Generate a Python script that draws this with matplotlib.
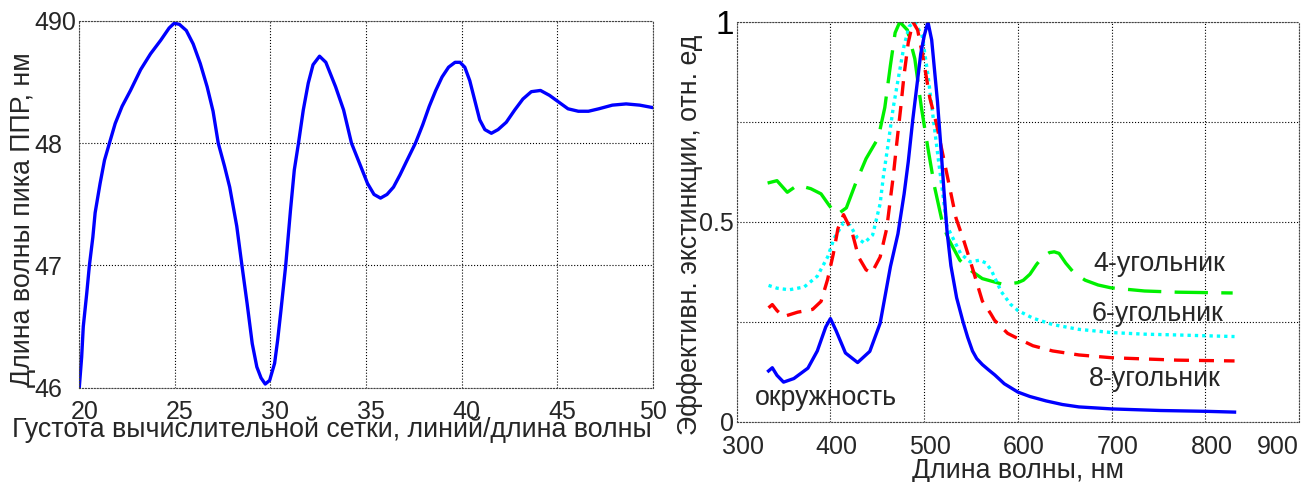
import matplotlib
matplotlib.use('Agg')
import matplotlib.pyplot as plt
from matplotlib.transforms import ScaledTranslation

plt.rcParams['font.family'] = ['Liberation Sans', 'DejaVu Sans']
TXT = '#262626'
FS = 19.3

# левый график: положение пика ППР от густоты сетки
grid_density = [20.0, 20.125, 20.21, 20.39, 20.53, 20.71, 20.83, 21.09, 21.32, 21.58,
                21.88, 22.24, 22.68, 23.21, 23.73, 24.26, 24.7, 24.97, 25.24, 25.6,
                25.96, 26.33, 26.69, 27.0, 27.27, 27.6, 27.87, 28.24, 28.51, 28.78,
                29.05, 29.29, 29.51, 29.73, 29.96, 30.22, 30.38, 30.55, 30.8, 31.05,
                31.25, 31.47, 31.72, 31.98, 32.23, 32.57, 32.9, 33.41, 33.83, 34.24,
                34.75, 35.08, 35.42, 35.76, 36.1, 36.44, 36.78, 37.12, 37.59, 37.97,
                38.31, 38.65, 38.98, 39.32, 39.66, 39.92, 40.17, 40.43, 40.69, 40.95,
                41.22, 41.56, 41.91, 42.34, 42.78, 43.21, 43.65, 44.13, 44.6, 45.04,
                45.57, 46.11, 46.64, 47.18, 47.89, 48.61, 49.32, 50.0]
peak_nm = [460.0, 462.5, 465.0, 467.7, 470.0, 472.3, 474.3, 476.7, 478.6, 480.0,
           481.6, 483.0, 484.3, 486.0, 487.3, 488.4, 489.4, 489.8, 489.7, 489.2,
           488.1, 486.5, 484.6, 482.6, 480.0, 478.1, 476.4, 473.2, 470.0, 466.9,
           463.6, 461.7, 460.8, 460.3, 460.6, 462.0, 463.9, 466.3, 470.0, 474.5,
           477.8, 480.0, 482.7, 484.9, 486.4, 487.1, 486.6, 484.6, 482.7, 480.0,
           478.0, 476.7, 475.8, 475.5, 475.8, 476.4, 477.4, 478.5, 480.0, 481.5,
           483.0, 484.3, 485.4, 486.2, 486.6, 486.6, 486.2, 485.1, 483.5, 481.9,
           481.1, 480.8, 481.1, 481.7, 482.7, 483.6, 484.2, 484.3, 483.9, 483.4,
           482.8, 482.6, 482.6, 482.8, 483.1, 483.2, 483.1, 482.9]
left_yticks = [460, 470, 480, 490]
left_ylabels = ['46', '47', '48', '490']
left_xticks = [20, 25, 30, 35, 40, 45, 50]

# правый график: спектры экстинкции
circle_wl = [334, 338, 343, 350, 361, 376, 386, 395, 400, 406,
             416, 429, 442, 453, 464, 472, 478.6, 483, 487.8, 492.7,
             496.3, 500, 504, 508, 511, 514.2, 517.7, 521, 524.4, 528.5,
             534.6, 541.4, 546.4, 551.5, 556, 562, 568.5, 575.3, 585.4, 600,
             612.8, 630, 647.4, 665, 700, 752, 800, 831]
circle_ext = [0.127, 0.135, 0.116, 0.099, 0.108, 0.134, 0.177, 0.237, 0.258, 0.228,
              0.172, 0.148, 0.176, 0.246, 0.388, 0.47, 0.57, 0.65, 0.755, 0.85,
              0.92, 0.965, 1.0, 0.955, 0.88, 0.8, 0.69, 0.58, 0.475, 0.39,
              0.31, 0.25, 0.211, 0.177, 0.158, 0.143, 0.13, 0.117, 0.095, 0.074,
              0.063, 0.052, 0.043, 0.037, 0.032, 0.028, 0.026, 0.024]

square_wl = [333, 343, 354, 365, 379, 390, 399, 407, 417, 427,
             438, 451, 458, 464, 469, 474, 482, 490, 497, 504,
             511, 520, 526, 538, 551, 562, 585, 600, 605.8, 612.8,
             619.7, 626.6, 633.5, 638.7, 643.9, 650.9, 659.5, 671.7, 685.5, 699,
             735, 770, 800, 829]
square_ext = [0.597, 0.603, 0.574, 0.592, 0.583, 0.57, 0.54, 0.518, 0.535, 0.597,
              0.658, 0.71, 0.786, 0.892, 0.973, 1.0, 0.98, 0.908, 0.786, 0.684,
              0.588, 0.492, 0.457, 0.404, 0.376, 0.358, 0.343, 0.348, 0.354, 0.369,
              0.393, 0.413, 0.423, 0.425, 0.421, 0.397, 0.373, 0.354, 0.342, 0.335,
              0.327, 0.324, 0.323, 0.322]

hexagon_wl = [334, 343, 356, 372, 386, 397, 404, 414, 421, 429,
              436, 445, 453, 456.5, 462, 467, 473, 478.5, 484, 490,
              498, 504, 509.5, 515, 520, 524, 529, 539, 549, 559,
              566, 572, 582, 592, 600, 616, 637, 665, 700, 735,
              770, 800, 831]
hexagon_ext = [0.341, 0.334, 0.33, 0.337, 0.364, 0.412, 0.459, 0.498, 0.491, 0.459,
               0.447, 0.467, 0.545, 0.614, 0.702, 0.786, 0.867, 0.94, 0.989, 1.0,
               0.964, 0.867, 0.762, 0.658, 0.568, 0.491, 0.467, 0.42, 0.4, 0.404,
               0.397, 0.377, 0.326, 0.294, 0.278, 0.259, 0.243, 0.231, 0.223, 0.219,
               0.217, 0.215, 0.213]

octagon_wl = [334, 338, 343, 350, 365, 381, 390, 397, 403, 408,
              414, 423, 430, 438, 444, 453, 460, 467, 471, 475,
              478.5, 483, 488, 493, 499, 506, 513, 520, 527, 534,
              542.5, 552, 562, 571, 575, 589, 600, 616, 637, 665,
              700, 735, 770, 800, 831]
octagon_ext = [0.285, 0.293, 0.278, 0.263, 0.274, 0.281, 0.301, 0.356, 0.419, 0.483,
               0.518, 0.475, 0.412, 0.38, 0.372, 0.412, 0.483, 0.614, 0.702, 0.786,
               0.867, 0.948, 1.0, 0.98, 0.908, 0.81, 0.746, 0.667, 0.588, 0.509,
               0.451, 0.38, 0.302, 0.27, 0.254, 0.221, 0.208, 0.19, 0.177, 0.167,
               0.16, 0.157, 0.154, 0.153, 0.152]

right_xticks = [300, 400, 500, 600, 700, 800, 900]
right_yticks = [0, 0.25, 0.5, 0.75, 1]
right_ylabels = ['0', '', '0.5', '', '1']

fig = plt.figure(figsize=(13.08, 4.82), dpi=100)
ax1 = fig.add_axes([0.0606, 0.1956, 0.4384, 0.7614])
ax2 = fig.add_axes([0.5632, 0.1251, 0.4301, 0.8293])


def style(ax):
    ax.grid(True, linestyle=':', color='black', linewidth=0.8)
    for s in ax.spines.values():
        s.set_linestyle(':')
        s.set_color('#444444')
        s.set_linewidth(0.8)
    ax.tick_params(length=0, labelsize=18, labelcolor=TXT)


def nudge(labels, dx_px):
    off = ScaledTranslation(dx_px / 100, 0, fig.dpi_scale_trans)
    for t in labels:
        t.set_transform(t.get_transform() + off)


# --- левый
ax1.plot(grid_density, peak_nm, color='#0000ff', lw=2.4)
ax1.set_xlim(20, 50)
ax1.set_ylim(460, 490)
ax1.set_xticks(left_xticks)
ax1.set_yticks(left_yticks)
ax1.set_yticklabels(left_ylabels)
style(ax1)
ax1.tick_params(axis='y', pad=32.6)
ax1.tick_params(axis='x', pad=8.6)
for t in ax1.get_yticklabels():
    t.set_horizontalalignment('left')
nudge(ax1.get_xticklabels()[:-1], 5)

fig.text(332 / 1308, 1 - 436.7 / 482, 'Густота вычислительной сетки, линий/длина волны',
         ha='center', va='baseline', fontsize=FS, color=TXT)
fig.text(30 / 1308, 1 - 220 / 482, 'Длина волны пика ППР, нм', rotation=90,
         rotation_mode='anchor', ha='center', va='baseline', fontsize=FS, color=TXT)

# --- правый
ax2.plot(square_wl, square_ext, color='#00f000', lw=2.4, dashes=(10, 4))
ax2.plot(hexagon_wl, hexagon_ext, color='#00ffff', lw=2.4, dashes=(1, 1.2))
ax2.plot(octagon_wl, octagon_ext, color='#ff0000', lw=2.4, dashes=(4.5, 3))
ax2.plot(circle_wl, circle_ext, color='#0000ff', lw=2.4)
ax2.set_xlim(300, 900)
ax2.set_ylim(0, 1)
ax2.set_xticks(right_xticks)
ax2.set_yticks(right_yticks)
ax2.set_yticklabels(right_ylabels)
style(ax2)
ax2.tick_params(axis='y', pad=2.2)
ax2.tick_params(axis='x', pad=9.4)
ax2.get_xticklabels()[-1].set_horizontalalignment('right')
nudge(ax2.get_xticklabels()[:-1], 6)
one = ax2.get_yticklabels()[-1]
one.set_fontsize(24)
one.set_color('black')

ax2.text(751, 0.377, '4-угольник', ha='center', va='baseline', fontsize=FS, color=TXT)
ax2.text(749, 0.251, '6-угольник', ha='center', va='baseline', fontsize=FS, color=TXT)
ax2.text(746, 0.089, '8-угольник', ha='center', va='baseline', fontsize=FS, color=TXT)
ax2.text(395, 0.043, 'окружность', ha='center', va='baseline', fontsize=FS, color=TXT)

fig.text(1018 / 1308, 1 - 478 / 482, 'Длина волны, нм', ha='center', va='baseline',
         fontsize=FS, color=TXT)
fig.text(697 / 1308, 1 - 235 / 482, 'Эффективн. экстинкции, отн. ед', rotation=90,
         rotation_mode='anchor', ha='center', va='baseline', fontsize=FS, color=TXT)

fig.savefig('out.png', dpi=100)
